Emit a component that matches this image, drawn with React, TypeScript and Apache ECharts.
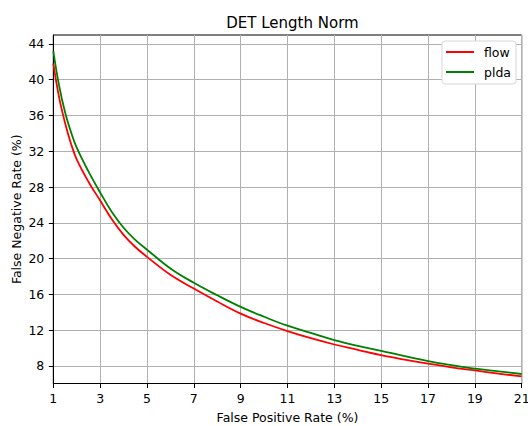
import React, { useEffect, useRef } from "react";
import * as echarts from "echarts";

const fpr = [1, 1.25, 1.5, 1.75, 2, 2.5, 3, 3.5, 4, 4.5, 5, 6, 7, 8, 9, 10, 11, 12, 13, 14, 15, 16, 17, 18, 19, 20, 21];
const flow = [41.8, 38.0, 35.2, 32.9, 31.1, 28.6, 26.5, 24.4, 22.65, 21.3, 20.2, 18.2, 16.65, 15.2, 13.85, 12.8, 11.9, 11.1, 10.4, 9.8, 9.2, 8.7, 8.25, 7.85, 7.5, 7.15, 6.83];
const plda = [43.2, 39.3, 36.4, 34.2, 32.4, 29.75, 27.4, 25.2, 23.45, 22.1, 21.0, 18.9, 17.3, 15.9, 14.6, 13.5, 12.5, 11.7, 10.9, 10.25, 9.7, 9.1, 8.55, 8.1, 7.7, 7.4, 7.1];
const yTicks = [8, 12, 16, 20, 24, 28, 32, 36, 40, 44];
const seriesNames = ["flow", "plda"];

const FONT = "DejaVu Sans";

export default function App() {
  const ref = useRef<HTMLDivElement>(null);
  useEffect(() => {
    if (!ref.current) return;
    const chart = echarts.init(ref.current, null, { renderer: "svg" });
    const toPairs = (ys: number[]) => fpr.map((x, i) => [x, ys[i]]);
    chart.setOption({
      animation: false,
      backgroundColor: "#ffffff",
      textStyle: { fontFamily: FONT },
      title: {
        text: "DET Length Norm",
        left: 287.5,
        textAlign: "center",
        top: 10,
        textStyle: { fontFamily: FONT, fontSize: 15, fontWeight: "normal", color: "#000" },
      },
      legend: {
        data: seriesNames,
        orient: "vertical",
        right: 12,
        top: 41,
        icon: "rect",
        itemWidth: 28,
        itemHeight: 2,
        itemGap: 0,
        padding: [1, 5, 2, 4],
        backgroundColor: "#ffffff",
        borderColor: "#d6d6d6",
        borderWidth: 1,
        borderRadius: 3,
        textStyle: { fontFamily: FONT, fontSize: 12.5, color: "#000", lineHeight: 20, padding: [0, 0, 0, 5] },
      },
      grid: {
        left: 53.3,
        right: 6.3,
        top: 35,
        bottom: 42.5,
        containLabel: false,
        outerBoundsMode: "none",
        show: true,
        borderColor: "#000",
        borderWidth: 1,
        backgroundColor: "transparent",
      },
      xAxis: {
        type: "value",
        min: 1,
        max: 21,
        interval: 2,
        name: "False Positive Rate (%)",
        nameLocation: "middle",
        nameGap: 27,
        nameMoveOverlap: false,
        nameTextStyle: { fontFamily: FONT, fontSize: 12.5, color: "#000" },
        axisLine: { show: true, onZero: false, lineStyle: { color: "#000", width: 1 } },
        axisTick: { show: true, inside: false, length: 4.5, lineStyle: { color: "#000" } },
        axisLabel: { fontFamily: FONT, fontSize: 12.5, color: "#000", margin: 8 },
        splitLine: { show: true, lineStyle: { color: "#b0b0b0", width: 1 } },
      },
      yAxis: {
        type: "value",
        min: 6.04,
        max: 45.0,
        name: "False Negative Rate (%)",
        nameLocation: "middle",
        nameGap: 30,
        nameMoveOverlap: false,
        nameTextStyle: { fontFamily: FONT, fontSize: 12.5, color: "#000" },
        axisLine: { show: true, onZero: false, lineStyle: { color: "#000", width: 1 } },
        axisTick: { show: true, inside: false, length: 4.5, lineStyle: { color: "#000" }, customValues: yTicks },
        axisLabel: { fontFamily: FONT, fontSize: 12.5, color: "#000", margin: 9, customValues: yTicks },
        splitLine: { show: true, lineStyle: { color: "#b0b0b0", width: 1 }, customValues: yTicks },
      },
      series: [
        {
          name: seriesNames[0],
          type: "line",
          data: toPairs(flow),
          showSymbol: false,
          symbol: "none",
          smooth: 0.4,
          color: "#ff0000",
          lineStyle: { color: "#ff0000", width: 1.8 },
          itemStyle: { color: "#ff0000" },
        },
        {
          name: seriesNames[1],
          type: "line",
          data: toPairs(plda),
          showSymbol: false,
          symbol: "none",
          smooth: 0.4,
          color: "#008000",
          lineStyle: { color: "#008000", width: 1.8 },
          itemStyle: { color: "#008000" },
        },
      ],
    });
    return () => chart.dispose();
  }, []);
  return (
    <div
      ref={ref}
      style={{ position: "fixed", left: 0, top: 0, width: 528, height: 426 }}
    />
  );
}
